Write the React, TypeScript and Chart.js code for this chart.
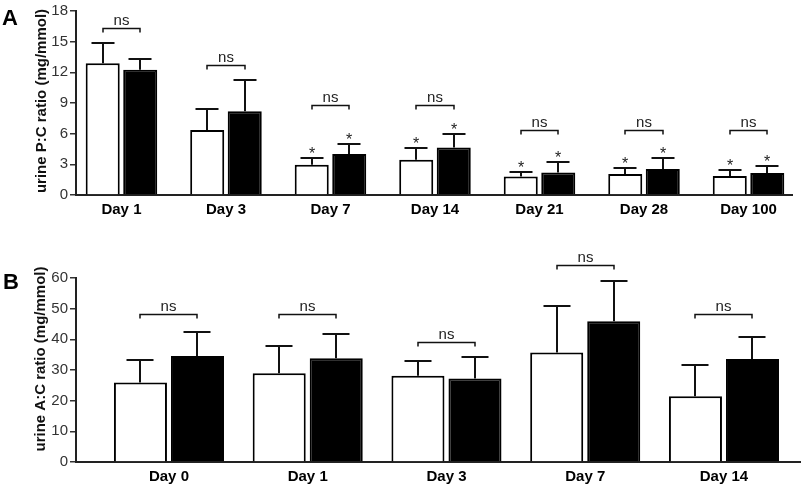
import React, { useEffect, useRef } from 'react';
import { Chart, registerables } from 'chart.js';

Chart.register(...registerables);

const FONT = "'Liberation Sans', Arial, Helvetica, sans-serif";

// ---------- Panel A: urine P:C ratio ----------
const labelsA = ['Day 1', 'Day 3', 'Day 7', 'Day 14', 'Day 21', 'Day 28', 'Day 100'];
const controlA = [12.9, 6.35, 2.95, 3.45, 1.8, 2.05, 1.85];
const controlErrA = [2.0, 2.05, 0.65, 1.1, 0.45, 0.55, 0.6];
const treatedA = [12.25, 8.2, 4.0, 4.65, 2.2, 2.55, 2.15];
const treatedErrA = [1.05, 3.05, 1.0, 1.3, 1.0, 1.1, 0.7];
const bracketA = [16.35, 12.7, 8.8, 8.8, 6.4, 6.4, 6.4];
const starA = [false, false, true, true, true, true, true];

// ---------- Panel B: urine A:C ratio ----------
const labelsB = ['Day 0', 'Day 1', 'Day 3', 'Day 7', 'Day 14'];
const controlB = [25.9, 28.9, 28.1, 35.7, 21.4];
const controlErrB = [7.4, 8.8, 4.8, 15.2, 10.2];
const treatedB = [34.6, 33.8, 27.2, 45.9, 33.6];
const treatedErrB = [7.9, 7.8, 7.0, 13.1, 7.3];
const bracketB = [48.4, 48.4, 39.2, 64.3, 48.4];
const starB = [false, false, false, false, false];

type Panel = {
  letter: string;
  title: string;
  labels: string[];
  control: number[];
  controlErr: number[];
  treated: number[];
  treatedErr: number[];
  bracket: number[];
  star: boolean[];
  yMax: number;
  yStep: number;
  xMin: number;
  xMax: number;
  height: number;
  padTop: number;
  padRight: number;
  xAxisHeight: number;
  labelPad: number;
  catPct: number;
  barPct: number;
  cap: number;
  titleX: number;
  titleY: number;
  letterX: number;
  letterY: number;
};

const panelA: Panel = {
  letter: 'A',
  title: 'urine P:C ratio (mg/mmol)',
  labels: labelsA,
  control: controlA,
  controlErr: controlErrA,
  treated: treatedA,
  treatedErr: treatedErrA,
  bracket: bracketA,
  star: starA,
  yMax: 18,
  yStep: 3,
  xMin: -0.435,
  xMax: 6.416,
  height: 232,
  padTop: 11,
  padRight: 9,
  xAxisHeight: 37,
  labelPad: 6,
  catPct: 0.718,
  barPct: 0.907,
  cap: 23,
  titleX: 42,
  titleY: 101,
  letterX: 2,
  letterY: 25,
};

const panelB: Panel = {
  letter: 'B',
  title: 'urine A:C ratio (mg/mmol)',
  labels: labelsB,
  control: controlB,
  controlErr: controlErrB,
  treated: treatedB,
  treatedErr: treatedErrB,
  bracket: bracketB,
  star: starB,
  yMax: 60,
  yStep: 10,
  xMin: -0.67,
  xMax: 4.548,
  height: 256,
  padTop: 46,
  padRight: 1,
  xAxisHeight: 26,
  labelPad: 6,
  catPct: 0.822,
  barPct: 0.93,
  cap: 27,
  titleX: 41,
  titleY: 127,
  letterX: 3,
  letterY: 57,
};

function annotate(p: Panel) {
  return {
    id: 'annot' + p.letter,
    afterDatasetsDraw(chart: any) {
      const ctx = chart.ctx as CanvasRenderingContext2D;
      const ys = chart.scales.y;
      const m0 = chart.getDatasetMeta(0);
      const m1 = chart.getDatasetMeta(1);
      ctx.save();
      ctx.strokeStyle = '#111';
      ctx.fillStyle = '#222';
      ctx.lineCap = 'butt';
      const series: [any, number[], number[]][] = [
        [m0, p.control, p.controlErr],
        [m1, p.treated, p.treatedErr],
      ];
      series.forEach(([meta, vals, errs]) => {
        meta.data.forEach((el: any, i: number) => {
          const x = Math.round(el.x);
          const yb = ys.getPixelForValue(vals[i]);
          const yt = Math.round(ys.getPixelForValue(vals[i] + errs[i]));
          ctx.lineWidth = 2;
          ctx.beginPath();
          ctx.moveTo(x, yb);
          ctx.lineTo(x, yt);
          ctx.moveTo(x - p.cap / 2, yt);
          ctx.lineTo(x + p.cap / 2, yt);
          ctx.stroke();
          if (p.star[i]) {
            ctx.font = `16px ${FONT}`;
            ctx.textAlign = 'center';
            ctx.textBaseline = 'alphabetic';
            ctx.fillText('*', x, yt + 1);
          }
        });
      });
      p.bracket.forEach((v, i) => {
        const x1 = Math.round(m0.data[i].x);
        const x2 = Math.round(m1.data[i].x);
        const yb = Math.round(ys.getPixelForValue(v)) + 0.5;
        ctx.lineWidth = 1.5;
        ctx.beginPath();
        ctx.moveTo(x1, yb + 4);
        ctx.lineTo(x1, yb);
        ctx.lineTo(x2, yb);
        ctx.lineTo(x2, yb + 4);
        ctx.stroke();
        ctx.font = `15px ${FONT}`;
        ctx.textAlign = 'center';
        ctx.textBaseline = 'alphabetic';
        ctx.fillText('ns', (x1 + x2) / 2, yb - 4);
      });
      ctx.restore();
    },
    afterDraw(chart: any) {
      const ctx = chart.ctx as CanvasRenderingContext2D;
      ctx.save();
      ctx.fillStyle = '#000';
      ctx.font = `bold 22px ${FONT}`;
      ctx.textAlign = 'left';
      ctx.textBaseline = 'alphabetic';
      ctx.fillText(p.letter, p.letterX, p.letterY);
      ctx.translate(p.titleX, p.titleY);
      ctx.rotate(-Math.PI / 2);
      ctx.font = `bold 15px ${FONT}`;
      ctx.textAlign = 'center';
      ctx.textBaseline = 'middle';
      ctx.fillStyle = '#111';
      ctx.fillText(p.title, 0, 0);
      ctx.restore();
    },
  };
}

function buildConfig(p: Panel): any {
  return {
    type: 'bar',
    data: {
      datasets: [
        {
          label: 'control',
          data: p.control.map((v, i) => ({ x: i, y: v })),
          backgroundColor: '#ffffff',
          borderColor: '#000000',
          borderWidth: 2,
          categoryPercentage: p.catPct,
          barPercentage: p.barPct,
        },
        {
          label: 'treated',
          data: p.treated.map((v, i) => ({ x: i, y: v })),
          backgroundColor: '#000000',
          borderColor: '#000000',
          borderWidth: 2,
          categoryPercentage: p.catPct,
          barPercentage: p.barPct,
        },
      ],
    },
    options: {
      responsive: false,
      animation: false,
      devicePixelRatio: 1,
      layout: { padding: { left: 0, right: p.padRight, top: p.padTop, bottom: 0 } },
      plugins: { legend: { display: false }, tooltip: { enabled: false }, title: { display: false } },
      scales: {
        x: {
          type: 'linear',
          min: p.xMin,
          max: p.xMax,
          bounds: 'data',
          offset: false,
          afterBuildTicks: (s: any) => {
            s.ticks = p.labels.map((_, i) => ({ value: i }));
          },
          afterFit: (s: any) => {
            s.height = p.xAxisHeight;
          },
          ticks: {
            callback: (v: any) => p.labels[v] ?? '',
            autoSkip: false,
            maxRotation: 0,
            minRotation: 0,
            includeBounds: false,
            font: { family: FONT, size: 15, weight: 'bold' },
            color: '#000',
            padding: p.labelPad,
          },
          grid: { display: false, drawTicks: false },
          border: { display: true, color: '#222', width: 2 },
        },
        y: {
          type: 'linear',
          min: 0,
          max: p.yMax,
          afterFit: (s: any) => {
            s.width = 76;
          },
          ticks: {
            stepSize: p.yStep,
            font: { family: FONT, size: 15 },
            color: '#333',
            padding: 2,
          },
          grid: {
            drawOnChartArea: false,
            drawTicks: true,
            tickLength: 6,
            color: '#333',
            lineWidth: 1.5,
          },
          border: { display: true, color: '#222', width: 2 },
        },
      },
    },
    plugins: [annotate(p)],
  };
}

function PanelChart({ p }: { p: Panel }) {
  const ref = useRef<HTMLCanvasElement | null>(null);
  useEffect(() => {
    if (!ref.current) return;
    const chart = new Chart(ref.current, buildConfig(p));
    return () => chart.destroy();
  }, [p]);
  return (
    <canvas
      ref={ref}
      width={801}
      height={p.height}
      style={{ display: 'block', width: 801, height: p.height }}
    />
  );
}

export default function App() {
  return (
    <div
      style={{
        position: 'absolute',
        left: 0,
        top: 0,
        width: 801,
        height: 488,
        background: '#fff',
        overflow: 'hidden',
      }}
    >
      <PanelChart p={panelA} />
      <PanelChart p={panelB} />
    </div>
  );
}
